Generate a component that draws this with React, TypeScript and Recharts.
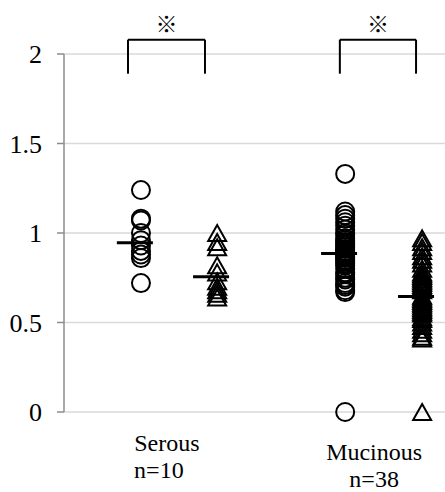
import { ScatterChart, Scatter, XAxis, YAxis, CartesianGrid, ReferenceLine, ReferenceDot } from 'recharts';

const groups = ['Serous', 'Mucinous'];
const counts = [10, 38];

const serousCircles = [1.24, 1.08, 1.07, 1.0, 0.96, 0.93, 0.9, 0.88, 0.86, 0.72];
const serousTriangles = [1.0, 0.95, 0.92, 0.82, 0.78, 0.73, 0.7, 0.68, 0.66, 0.64];
const mucinousCircles = [
  1.33, 1.12, 1.1, 1.08, 1.06, 1.04, 1.02, 1.0, 0.99, 0.97, 0.96, 0.95, 0.94, 0.93, 0.92, 0.91, 0.9, 0.89, 0.89,
  0.88, 0.88, 0.87, 0.86, 0.85, 0.84, 0.83, 0.82, 0.8, 0.78, 0.77, 0.75, 0.74, 0.72, 0.71, 0.7, 0.68, 0.67, 0,
];
const mucinousTriangles = [
  0.97, 0.95, 0.92, 0.9, 0.87, 0.85, 0.83, 0.8, 0.78, 0.77, 0.76, 0.75, 0.74, 0.73, 0.72, 0.71, 0.7, 0.68, 0.65,
  0.64, 0.63, 0.62, 0.61, 0.6, 0.59, 0.58, 0.57, 0.56, 0.55, 0.53, 0.52, 0.5, 0.48, 0.46, 0.44, 0.42, 0.41, 0,
];
const yTicks = [0, 0.5, 1, 1.5, 2];

// positions on a 0..10 x scale
const circleX = [2.02, 7.38];
const triangleX = [4.02, 9.4];
const labelX = [2.7, 8.14];
const labelDy = [-4, 5];
const bracketLeft = [1.68, 7.24];
const bracketRight = [3.7, 9.24];
const bracketTop = 2.08;
const bracketBottom = 1.89;

const median = (vals: number[]) => {
  const s = [...vals].sort((a, b) => a - b);
  const m = Math.floor(s.length / 2);
  return s.length % 2 ? s[m] : (s[m - 1] + s[m]) / 2;
};

const circles = [serousCircles, mucinousCircles].flatMap((vals, i) => vals.map((v) => ({ x: circleX[i], y: v })));
const triangles = [serousTriangles, mucinousTriangles].flatMap((vals, i) => vals.map((v) => ({ x: triangleX[i], y: v })));
const medians = [
  ...[serousCircles, mucinousCircles].map((vals, i) => ({ x: circleX[i] - 0.16, y: median(vals) })),
  ...[serousTriangles, mucinousTriangles].map((vals, i) => ({ x: triangleX[i] - 0.16, y: median(vals) })),
];

const Circle = (p: any) => <circle cx={p.cx} cy={p.cy} r={9} fill="none" stroke="#000" strokeWidth={2} />;
const Triangle = (p: any) => (
  <path
    d={`M${p.cx},${p.cy - 8} L${p.cx + 9},${p.cy + 8} L${p.cx - 9},${p.cy + 8} Z`}
    fill="none"
    stroke="#000"
    strokeWidth={2}
  />
);
const Dash = (p: any) => <line x1={p.cx - 18} x2={p.cx + 18} y1={p.cy} y2={p.cy} stroke="#000" strokeWidth={3} />;

const GroupTick = (props: any) => {
  const { x, y, payload } = props;
  const i = labelX.indexOf(payload.value);
  return (
    <g>
      <text x={x} y={y + 43 + labelDy[i]} textAnchor="middle" fontSize={24} fontFamily="Liberation Serif" fill="#000">
        {groups[i]}
      </text>
      <text x={x - (i === 0 ? 8 : 0)} y={y + 70 + labelDy[i]} textAnchor="middle" fontSize={24} fontFamily="Liberation Serif" fill="#000">
        {`n=${counts[i]}`}
      </text>
    </g>
  );
};

export default function App() {
  return (
    <div style={{ position: 'absolute', left: 0, top: 0, width: 445, height: 492, background: '#fff' }}>
      <ScatterChart width={445} height={492} margin={{ top: 54, right: 0, bottom: 0, left: 0 }}>
        <CartesianGrid vertical={false} stroke="#d9d9d9" strokeWidth={1.5} />
        <XAxis
          type="number"
          dataKey="x"
          domain={[0, 10]}
          ticks={labelX}
          tick={<GroupTick />}
          axisLine={false}
          tickLine={false}
          tickSize={0}
          tickMargin={0}
          height={80}
        />
        <YAxis
          type="number"
          dataKey="y"
          domain={[0, 2]}
          ticks={yTicks}
          width={64}
          axisLine={{ stroke: '#8c8c8c', strokeWidth: 1.5 }}
          tickLine={{ stroke: '#8c8c8c', strokeWidth: 1.5 }}
          tickSize={7}
          tickMargin={15}
          tick={{ fill: '#000', fontSize: 26, fontFamily: 'Liberation Serif' }}
        />
        <Scatter data={circles} shape={Circle} isAnimationActive={false} />
        <Scatter data={triangles} shape={Triangle} isAnimationActive={false} />
        <Scatter data={medians} shape={Dash} isAnimationActive={false} />
        {groups.map((g, i) => {
          const x1 = bracketLeft[i];
          const x2 = bracketRight[i];
          return [
            <ReferenceLine key={g + 'l'} segment={[{ x: x1, y: bracketBottom }, { x: x1, y: bracketTop }]} stroke="#000" strokeWidth={2} ifOverflow="visible" />,
            <ReferenceLine key={g + 't'} segment={[{ x: x1, y: bracketTop }, { x: x2, y: bracketTop }]} stroke="#000" strokeWidth={2} ifOverflow="visible" />,
            <ReferenceLine key={g + 'r'} segment={[{ x: x2, y: bracketTop }, { x: x2, y: bracketBottom }]} stroke="#000" strokeWidth={2} ifOverflow="visible" />,
            <ReferenceDot
              key={g + 's'}
              x={(x1 + x2) / 2}
              y={bracketTop}
              r={0}
              fill="none"
              stroke="none"
              ifOverflow="visible"
              label={{ value: '※', position: 'top', offset: 8, fontSize: 22, fill: '#000', fontFamily: 'Noto Sans CJK JP' }}
            />,
          ];
        })}
      </ScatterChart>
    </div>
  );
}
